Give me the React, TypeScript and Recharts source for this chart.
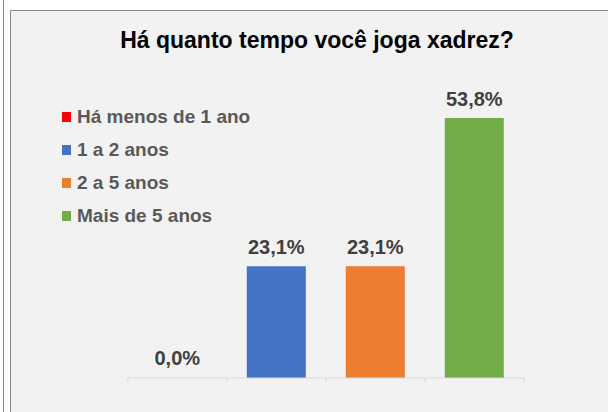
import React from "react"
import { BarChart, Bar, Cell, XAxis, YAxis, Legend, LabelList } from "recharts"

const categories = ["Há menos de 1 ano", "1 a 2 anos", "2 a 5 anos", "Mais de 5 anos"]
const shares = [0.0, 23.1, 23.1, 53.8]
const colors = ["#ff0000", "#4472c4", "#ed7d31", "#70ad47"]

const data = categories.map((name, i) => ({ name, value: shares[i] }))

const font = "'Liberation Sans', Arial, sans-serif"

const fmt = (v: any) => `${Number(v).toFixed(1).replace(".", ",")}%`

// tick marks sit on the category boundaries, not the centers
const BoundaryTick = (props: any) => {
  const { x, y, payload, index } = props
  const half = payload?.offset ?? 0
  const last = index === categories.length - 1
  return (
    <g>
      <line x1={x - half} x2={x - half} y1={y - 8} y2={y - 3} stroke="#d9d9d9" />
      {last && <line x1={x + half} x2={x + half} y1={y - 8} y2={y - 3} stroke="#d9d9d9" />}
    </g>
  )
}

const LegendBox = () => (
  <div style={{ fontFamily: font, fontWeight: 700, fontSize: 19, color: "#595959" }}>
    {categories.map((c, i) => (
      <div key={c} style={{ display: "flex", alignItems: "center", height: 33 }}>
        <span style={{ width: 9, height: 10, background: colors[i], marginRight: 6, display: "inline-block" }} />
        <span>{c}</span>
      </div>
    ))}
  </div>
)

export default function App() {
  return (
    <div style={{ position: "fixed", left: 0, top: 0, width: 608, height: 412, background: "#fff", overflow: "hidden" }}>
      <div style={{ position: "absolute", left: 3, top: 0, width: 1, height: 412, background: "#8c8c8c" }} />
      <div
        style={{
          position: "absolute",
          left: 10,
          top: 10,
          width: 598,
          height: 402,
          background: "#f2f2f2",
          borderLeft: "1px solid #8c8c8c",
          borderTop: "1px solid #8c8c8c",
          boxSizing: "border-box",
        }}
      />
      <div
        style={{
          position: "absolute",
          left: 18,
          width: 598,
          top: 26,
          lineHeight: "28px",
          textAlign: "center",
          fontFamily: font,
          fontWeight: 700,
          fontSize: 23,
          color: "#000",
        }}
      >
        Há quanto tempo você joga xadrez?
      </div>
      <div style={{ position: "absolute", left: 0, top: 0 }}>
        <BarChart width={608} height={412} data={data} margin={{ top: 88, right: 84, left: 128, bottom: 4 }} barCategoryGap="20%">
          <XAxis
            dataKey="name"
            height={30}
            tick={<BoundaryTick />}
            tickLine={false}
            interval={0}
            stroke="#d9d9d9"
          />
          <YAxis hide domain={[0, 60]} />
          <Legend
            verticalAlign="middle"
            align="center"
            layout="vertical"
            wrapperStyle={{ left: 62, top: 100, width: "auto" }}
            content={() => <LegendBox />}
          />
          <Bar dataKey="value" isAnimationActive={false} minPointSize={1}>
            {data.map((d, i) => (
              <Cell key={d.name} fill={colors[i]} fillOpacity={d.value === 0 ? 0 : 1} />
            ))}
            <LabelList
              dataKey="value"
              position="top"
              offset={12}
              formatter={fmt}
              style={{ fontFamily: font, fontWeight: 700, fontSize: 20, fill: "#404040" }}
            />
          </Bar>
        </BarChart>
      </div>
    </div>
  )
}
